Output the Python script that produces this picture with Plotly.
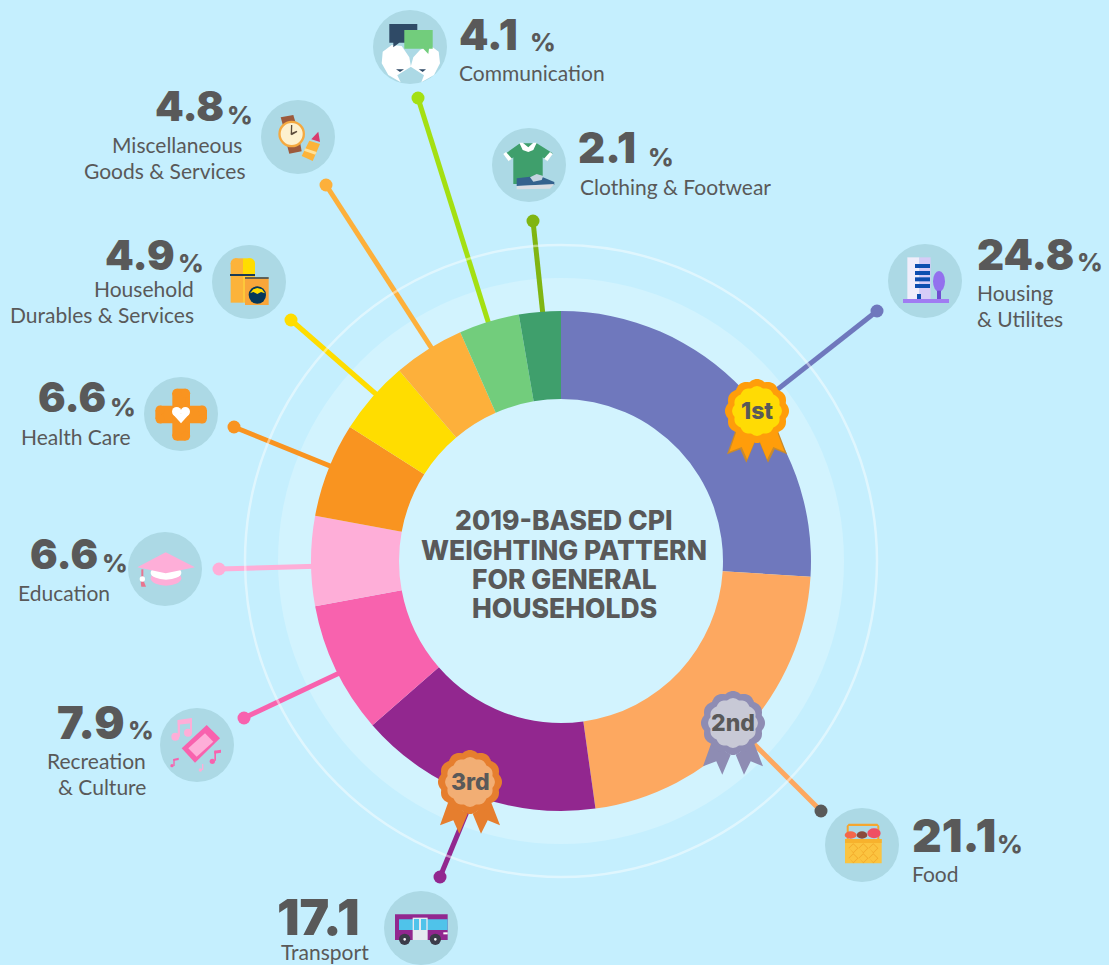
import plotly.graph_objects as go
import math

# ---------- data ----------
categories = ["Housing & Utilites", "Food", "Transport", "Recreation & Culture", "Education",
              "Health Care", "Household Durables & Services", "Miscellaneous Goods & Services",
              "Communication", "Clothing & Footwear"]
weights = [24.8, 21.1, 17.1, 7.9, 6.6, 6.6, 4.9, 4.8, 4.1, 2.1]
# angular share of each slice as actually drawn in the picture
drawn_shares = [26.0, 21.8, 15.8, 8.5, 5.8, 6.1, 4.8, 4.6, 3.9, 2.7]
slice_colors = ["#6f78bd", "#fda860", "#92278f", "#f862ae", "#feaed8",
                "#f99420", "#ffdd00", "#fdb03b", "#72cd7c", "#3f9f6c"]
title_lines = ["2019-BASED CPI", "WEIGHTING PATTERN", "FOR GENERAL", "HOUSEHOLDS"]

W, H = 1109, 965
CX, CY, R_OUT, R_IN = 561, 561, 250, 162
BG = "#c5effe"
TXT = "#595959"
VAL_FONT = "Inter"
LAB_FONT = "Lato"

# ---------- layout tables (pixel positions) ----------
# leader: dot x, dot y, end x, end y, line colour, dot colour
leaders = [
    (877, 311, 745, 415, "#6f78bd", "#6f78bd"),
    (821, 811, 735, 725, "#fda860", "#595959"),
    (440, 877, 478, 785, "#92278f", "#92278f"),
    (244, 718, 350, 668, "#f862ae", "#f862ae"),
    (219, 569, 325, 566, "#feaed8", "#feaed8"),
    (234, 427, 340, 470, "#f99420", "#f99420"),
    (291, 320, 385, 402, "#ffdd00", "#ffdd00"),
    (326, 185, 436, 355, "#fdb03b", "#fdb03b"),
    (418, 98, 497, 350, "#a4e012", "#a4e012"),
    (533, 221, 544, 325, "#80b512", "#80b512"),
]
icon_centres = [(925, 281), (862, 845), (421, 928), (197, 745), (165, 569),
                (181, 414), (249, 282), (298, 137), (410, 47), (529, 165)]
# value text: anchor, x, y, font size ; percent: left x, y (None = no percent sign)
value_pos = [
    ("left", 977, 254, 42, 1077, 262), ("left", 912, 835, 46, 997, 844), ("left", 277, 917, 50, None, None),
    ("right", 125, 722, 45, 128, 730), ("right", 98, 554, 41, 102, 563), ("right", 106, 397, 41, 110, 407),
    ("right", 175, 255, 41, 178, 263), ("right", 224, 106, 41, 227, 115), ("left", 459, 34, 42, 530, 42),
    ("left", 578, 147, 42, 648, 157),
]
# label text: text, anchor, x, y
label_pos = [
    ("Housing", "left", 977, 292.5), ("& Utilites", "left", 977, 318.5),
    ("Food", "left", 912, 873), ("Transport", "right", 369, 951),
    ("Recreation", "right", 146, 760), ("& Culture", "right", 146, 786),
    ("Education", "left", 18, 592), ("Health Care", "right", 131, 436),
    ("Household", "right", 194, 288), ("Durables & Services", "right", 194, 314),
    ("Miscellaneous", "right", 242, 144), ("Goods & Services", "right", 246, 170),
    ("Communication", "left", 459, 72), ("Clothing & Footwear", "left", 580, 186),
]
rosettes = [(757, 411, "1st", "#ff9d0a", "#ffdb04", "#c98a2b"),
            (733, 723, "2nd", "#8e8cb3", "#c8c9d6", "#8e8cb3"),
            (470, 782, "3rd", "#e67e2e", "#f2ae74", "#e67e2e")]

# ---------- shape helpers ----------
shapes_below, shapes = [], []


def circ(x, y, r, color, rx=None, target=None):
    rx = r if rx is None else rx
    (shapes if target is None else target).append(dict(
        type="circle", xref="x", yref="y", x0=x - rx, x1=x + rx, y0=y - r, y1=y + r,
        fillcolor=color, line=dict(width=0)))


def rect(x0, y0, x1, y1, color):
    shapes.append(dict(type="rect", xref="x", yref="y", x0=x0, x1=x1, y0=y0, y1=y1,
                       fillcolor=color, line=dict(width=0)))


def poly(pts, color):
    p = "M" + " L".join(f"{a:.1f},{b:.1f}" for a, b in pts) + " Z"
    shapes.append(dict(type="path", xref="x", yref="y", path=p, fillcolor=color, line=dict(width=0)))


class Z:

    def __init__(self, ox, oy):
        self.ox, self.oy = ox, oy

    def p(self, pts, color):
        poly([(self.ox + a / 3, self.oy + b / 3) for a, b in pts], color)

    def r(self, x0, y0, x1, y1, color):
        rect(self.ox + x0 / 3, self.oy + y0 / 3, self.ox + x1 / 3, self.oy + y1 / 3, color)

    def c(self, x, y, r, color, rx=None):
        circ(self.ox + x / 3, self.oy + y / 3, r / 3, color, None if rx is None else rx / 3)


def scallop(cx, cy, r, color):
    pts = []
    for i in range(144):
        t = 2 * math.pi * i / 144
        rr = r * (0.945 + 0.07 * abs(math.cos(6 * t)))
        pts.append((cx + rr * math.sin(t), cy - rr * math.cos(t)))
    poly(pts, color)


# ---------- background rings ----------
circ(CX, CY, 283, "#d2f3fe", target=shapes_below)

# icon discs
for x, y in icon_centres:
    circ(x, y, 37, "#acd9e5")

# thin outer ring above the leaders
shapes.append(dict(type="circle", xref="x", yref="y", x0=CX - 316, x1=CX + 316, y0=CY - 316, y1=CY + 316,
                   fillcolor="rgba(0,0,0,0)", line=dict(width=2.5, color="rgba(255,255,255,0.45)")))

# ---------- icons ----------
# communication
z = Z(360, 0)
z.p([(95, 135), (125, 138), (148, 172), (153, 200), (112, 226), (122, 247), (85, 225), (65, 190), (68, 155)], "#ffffff")
z.p([(209, 135), (180, 150), (160, 172), (152, 200), (192, 226), (184, 247), (222, 225), (240, 190), (236, 155)], "#ffffff")
z.p([(108, 208), (132, 208), (120, 216)], "#2f4a66")
z.p([(176, 208), (198, 208), (188, 216)], "#2f4a66")
z.p([(88, 72), (172, 72), (172, 128), (118, 128), (100, 142), (100, 128), (88, 128)], "#2f4a66")
z.p([(133, 90), (218, 90), (218, 146), (207, 146), (205, 162), (190, 146), (133, 146)], "#72cd7c")
# clothing
z.p([(438, 460), (480, 430), (530, 430), (578, 460), (560, 482), (548, 472), (548, 552), (460, 552), (460, 472), (448, 482)], "#3f9f6c")
z.p([(478, 428), (488, 428), (505, 442), (520, 428), (530, 428), (520, 450), (505, 456), (488, 450)], "#ffffff")
z.p([(430, 462), (438, 456), (456, 476), (446, 484)], "#ffffff")
z.p([(578, 462), (570, 456), (552, 476), (562, 484)], "#ffffff")
z.p([(470, 535), (510, 530), (545, 530), (583, 546), (583, 555), (470, 558)], "#34628e")
z.p([(470, 558), (583, 552), (570, 566), (470, 568)], "#d9dde3")
z.p([(510, 532), (530, 522), (550, 528), (545, 540), (520, 545)], "#c4d4e0")
# miscellaneous
z = Z(0, 80)
z.p([(842, 112), (880, 105), (888, 132), (850, 140)], "#9c5a3c")
z.p([(860, 192), (900, 186), (905, 214), (868, 221)], "#9c5a3c")
z.c(875, 162, 40, "#f4a940")
z.c(875, 162, 33, "#fdf1cf")
z.p([(873, 135), (877, 135), (876, 164), (872, 164)], "#5a4a3a")
z.p([(872, 160), (890, 152), (892, 156), (875, 166)], "#5a4a3a")
z.p([(905, 228), (928, 182), (960, 192), (938, 243)], "#fcb33a")
z.p([(916, 205), (950, 216), (946, 224), (912, 212)], "#fde29c")
z.p([(934, 178), (955, 155), (960, 186)], "#d93a6c")
# household
z.r(692, 550, 729, 668, "#fcb33a")
z.r(705, 535, 729, 552, "#fcb33a")
z.c(707, 550, 15, "#fcb33a")
z.r(729, 535, 752, 585, "#ffdd00")
z.r(729, 550, 765, 585, "#ffdd00")
z.c(750, 550, 15, "#ffdd00")
z.r(729, 585, 765, 668, "#fdc83a")
z.r(690, 582, 765, 588, "#1a3a55")
z.r(735, 592, 806, 675, "#f9a63a")
z.r(735, 592, 806, 596, "#1a3a55")
z.c(772, 645, 26, "#05375a")
z.p([(750, 640), (760, 628), (772, 624), (786, 628), (795, 640), (783, 636), (772, 642), (760, 636)], "#ffdd00")
# health
z = Z(0, 370)
z.r(480, 107, 607, 160, "#f99420")
z.r(466, 120, 621, 147, "#f99420")
z.r(517, 70, 570, 198, "#f99420")
z.r(530, 56, 557, 212, "#f99420")
for a, b in ((480, 120), (480, 147), (607, 120), (607, 147), (530, 70), (557, 70), (530, 198), (557, 198)):
    z.c(a, b, 13.5, "#f99420")
z.c(530, 125, 14, "#ffffff")
z.c(556, 125, 14, "#ffffff")
z.p([(518, 132), (568, 132), (543, 160)], "#ffffff")
# education
z.c(498, 625, 22, "#feaed8", 46)
z.c(498, 608, 21, "#ffffff", 46)
z.p([(412, 592), (497, 547), (585, 592), (497, 610)], "#feaed8")
z.r(424, 598, 430, 640, "#e9748f")
z.p([(422, 635), (432, 635), (438, 650), (424, 650)], "#e9748f")
z.c(427, 627, 8, "#ffffff")
# recreation
z.p([(545, 1135), (620, 1065), (660, 1105), (585, 1178)], "#f862ae")
z.p([(565, 1135), (615, 1090), (640, 1115), (590, 1160)], "#feaed8")
z.r(533, 1050, 540, 1100, "#feaed8")
z.p([(533, 1050), (575, 1044), (575, 1060), (533, 1064)], "#feaed8")
z.r(570, 1045, 576, 1090, "#feaed8")
z.c(526, 1100, 12, "#feaed8")
z.c(564, 1088, 12, "#feaed8")
z.r(643, 1142, 648, 1172, "#f862ae")
z.p([(643, 1142), (663, 1139), (663, 1148), (643, 1151)], "#f862ae")
z.c(637, 1174, 8, "#f862ae")
z.r(520, 1167, 524, 1188, "#f862ae")
z.p([(520, 1167), (536, 1163), (536, 1170), (520, 1173)], "#f862ae")
z.c(516, 1187, 5, "#f862ae")
z.r(606, 1182, 610, 1200, "#feaed8")
z.c(601, 1200, 5, "#feaed8")
# transport
z = Z(260, 680)
z.r(405, 703, 563, 780, "#92278f")
z.r(417, 718, 563, 750, "#4fc3ea")
z.r(458, 713, 503, 780, "#e6e9f0")
z.r(462, 717, 477, 750, "#4fc3ea")
z.r(483, 717, 499, 750, "#4fc3ea")
z.r(550, 757, 563, 763, "#ffffff")
z.c(434, 778, 17, "#3c3c4a")
z.c(434, 778, 4, "#ffffff")
z.c(526, 778, 17, "#3c3c4a")
z.c(526, 778, 4, "#ffffff")
# food
z = Z(680, 670)
z.p([(500, 508), (500, 468), (506, 461), (592, 461), (598, 468), (598, 508), (592, 508), (592, 468), (506, 468), (506, 508)], "#f5a62f")
z.c(512, 495, 11, "#f4664a", 18)
z.c(546, 495, 11, "#8b4a3c", 16)
z.c(582, 490, 15, "#ef4f63", 20)
z.r(495, 507, 605, 580, "#fbc440")
z.r(495, 507, 605, 519, "#f7b22d")
for a in (520, 550, 580):
    for b in (535, 565):
        z.p([(a - 15, b), (a, b - 15), (a + 15, b), (a, b + 15), (a - 12, b), (a, b + 12), (a + 12, b), (a, b - 12), (a - 12, b)], "#f2a92a")
# housing
z = Z(700, 220)
z.r(622, 112, 658, 237, "#f0eefb")
z.r(658, 112, 692, 237, "#d6ccf7")
for yy in (132, 153, 172, 192):
    z.r(645, yy, 690, yy + 12, "#0d4fb0")
z.r(651, 222, 663, 237, "#0d4fb0")
z.c(717, 184, 31, "#9370ee", 18)
z.r(711, 212, 723, 238, "#6f4fd0")
z.r(609, 237, 747, 249, "#a07cf2")

# ---------- rosettes ----------
tail_l = [(-65, 60), (-90, 130), (-50, 115), (-32, 155), (-7, 95)]
tail_r = [(8, 95), (33, 155), (53, 115), (90, 130), (63, 60)]
for cx, cy, txt, outer, inner, shadow in rosettes:
    for tail in (tail_l, tail_r):
        poly([(cx + a / 3, cy + b / 3) for a, b in tail], shadow)
        if shadow != outer:
            poly([(cx + a * 0.92 / 3, cy + b * 0.94 / 3) for a, b in tail], outer)
    scallop(cx, cy, 31.5, outer)
    scallop(cx, cy, 24.5, inner)

# ---------- annotations ----------
ann = []


def text(s, x, y, anchor, size, family, weight=400, color=TXT):
    ann.append(dict(text=s, x=x, y=y, xref="x", yref="y", xanchor=anchor, yanchor="middle",
                    showarrow=False, borderpad=0, borderwidth=0,
                    font=dict(family=family, size=size, color=color, weight=weight)))


for w, (anc, x, y, size, px, py) in zip(weights, value_pos):
    text(f"{w:.1f}", x, y, anc, size, VAL_FONT, 900)
    if px is not None:
        text("%", px, py, "left", 25, VAL_FONT, 800)
for s, anc, x, y in label_pos:
    text(s, x, y, anc, 21, LAB_FONT)
for s, y in zip(title_lines, (520, 550, 579, 608)):
    text(s, 564, y, "center", 26.5, VAL_FONT, 800)
for cx, cy, txt, *_ in rosettes:
    text(txt, cx, cy, "center", 23, VAL_FONT, 800)

# ---------- figure ----------
fig = go.Figure()
for x0, y0, x1, y1, lc, dc in leaders:
    fig.add_trace(go.Scatter(x=[x0, x1], y=[y0, y1], mode="lines", line=dict(color=lc, width=5),
                             hoverinfo="skip", showlegend=False))
fig.add_trace(go.Scatter(x=[l[0] for l in leaders], y=[l[1] for l in leaders], mode="markers",
                         marker=dict(size=13, color=[l[5] for l in leaders], line=dict(width=0)),
                         hoverinfo="skip", showlegend=False))
fig.add_trace(go.Pie(labels=categories, values=drawn_shares, customdata=weights, sort=False,
                     direction="clockwise", rotation=0, hole=R_IN / R_OUT,
                     marker=dict(colors=slice_colors, line=dict(width=0)),
                     textinfo="none", hovertemplate="%{label}: %{customdata}%<extra></extra>",
                     domain=dict(x=[(CX - R_OUT) / W, (CX + R_OUT) / W],
                                 y=[1 - (CY + R_OUT) / H, 1 - (CY - R_OUT) / H]),
                     showlegend=False))
fig.update_layout(
    width=W, height=H, margin=dict(l=0, r=0, t=0, b=0), paper_bgcolor=BG, plot_bgcolor=BG,
    xaxis=dict(range=[0, W], visible=False, fixedrange=True),
    yaxis=dict(range=[H, 0], visible=False, fixedrange=True),
    shapes=[dict(s, layer="below") for s in shapes_below] + shapes,
    annotations=ann, showlegend=False,
)
fig.write_html("out.html", config={"displayModeBar": False},
               post_script="document.body.style.margin='0';document.body.style.background='%s';" % BG)
